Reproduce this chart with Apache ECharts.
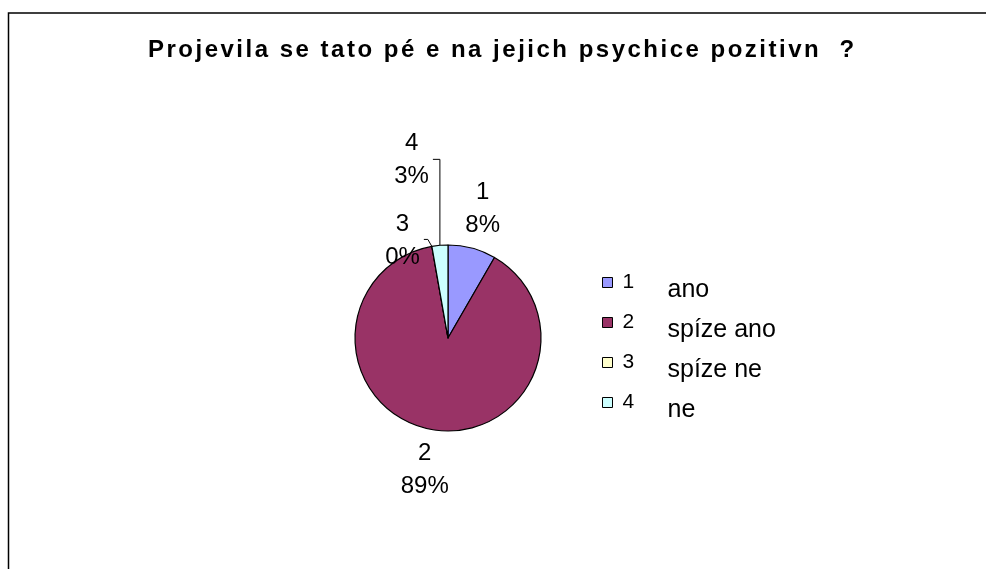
<!DOCTYPE html>
<html lang="cs">
<head>
    <meta charset="UTF-8">
    <title>Projevila se tato péče na jejich psychice pozitivně?</title>
    <script type="text/javascript" src="https://cdn.jsdelivr.net/npm/echarts@6/dist/echarts.min.js"></script>
    <style>
        html, body { margin: 0; padding: 0; background: #fff; }
    </style>
</head>
<body>
<div id="pie-psyche" style="width: 986px;height: 569px"></div>
<script type="text/javascript">
    // data
    var categories = ['1', '2', '3', '4'];
    var answers = ['ano', 'spíze ano', 'spíze ne', 'ne'];
    var counts = [3, 32, 0, 1];
    var colors = ['#9999FF', '#993366', '#FFFFCC', '#CCFFFF'];
    var titleText = 'Projevila se tato pé e na jejich psychice pozitivn  ?';

    // the title in the picture is letter-spaced, canvas can do that
    var fillTextOrig = CanvasRenderingContext2D.prototype.fillText;
    CanvasRenderingContext2D.prototype.fillText = function () {
        this.letterSpacing = /bold/.test(this.font) ? '2.5px' : '0px';
        return fillTextOrig.apply(this, arguments);
    };

    var cx = 448, cy = 338, R = 93;
    // small slices get a callout line
    var callouts = {
        2: {up: 7, lean: 4, hook: 4},
        3: {up: 86, lean: 0, hook: 7}
    };

    var total = counts.reduce(function (a, b) { return a + b; }, 0);
    var bufData = [];
    for (var i = 0; i < categories.length; i++) {
        bufData.push({
            name: categories[i],
            value: counts[i],
            itemStyle: {color: colors[i]},
            labelLine: {show: !!callouts[i]}
        });
    }

    var chartDom = document.getElementById('pie-psyche');
    var myChart = echarts.init(chartDom, null, {renderer: 'canvas'});

    var option = {
        backgroundColor: '#fff',
        animation: false,
        title: {
            text: titleText,
            left: 143,
            top: 33,
            textStyle: {
                fontFamily: 'Liberation Sans',
                fontWeight: 'bold',
                fontSize: 24,
                color: '#000'
            }
        },
        graphic: [{
            type: 'rect',
            shape: {x: 8.5, y: 13, width: 1100, height: 700},
            style: {fill: null, stroke: '#000', lineWidth: 1.5},
            silent: true
        }],
        legend: {
            orient: 'vertical',
            left: 597,
            top: 257,
            itemWidth: 10,
            itemHeight: 10,
            itemGap: -1,
            icon: 'rect',
            itemStyle: {borderColor: '#000', borderWidth: 1},
            formatter: function (name) {
                return '{n|' + name + '}{t|' + answers[categories.indexOf(name)] + '}';
            },
            textStyle: {
                color: '#000',
                fontFamily: 'Liberation Sans',
                rich: {
                    n: {fontSize: 21, lineHeight: 24, width: 45, padding: [0, 0, 0, 5], fontFamily: 'Liberation Sans', color: '#000'},
                    t: {fontSize: 25, lineHeight: 24, padding: [16, 0, 0, 0], fontFamily: 'Liberation Sans', color: '#000'}
                }
            },
            data: categories
        },
        series: [{
            type: 'pie',
            center: [cx, cy],
            radius: R,
            startAngle: 90,
            clockwise: true,
            percentPrecision: 0,
            avoidLabelOverlap: false,
            itemStyle: {borderColor: '#000', borderWidth: 1.2},
            label: {
                show: true,
                position: 'outside',
                formatter: '{b}\n{d}%',
                fontFamily: 'Liberation Sans',
                fontSize: 24,
                lineHeight: 33,
                color: '#000',
                align: 'center'
            },
            labelLine: {
                lineStyle: {color: '#000', width: 1}
            },
            labelLayout: function (p) {
                var k = p.dataIndex;
                var before = 0;
                for (var j = 0; j < k; j++) before += counts[j];
                var mid = (before + counts[k] / 2) / total * Math.PI * 2;
                var c = callouts[k];
                if (!c) {
                    return {
                        x: cx + 134 * Math.sin(mid),
                        y: cy - 134 * Math.cos(mid),
                        align: 'center',
                        verticalAlign: 'middle'
                    };
                }
                var sx = cx + R * Math.sin(mid), sy = cy - R * Math.cos(mid);
                var ex = sx - c.lean, ey = sy - c.up, hx = ex - c.hook;
                return {
                    x: hx - 4 - p.labelRect.width / 2,
                    y: ey + 1,
                    align: 'center',
                    verticalAlign: 'middle',
                    labelLinePoints: [[sx, sy], [ex, ey], [hx, ey]]
                };
            },
            emphasis: {disabled: true},
            data: bufData
        }]
    };

    option && myChart.setOption(option);
</script>
</body>
</html>
